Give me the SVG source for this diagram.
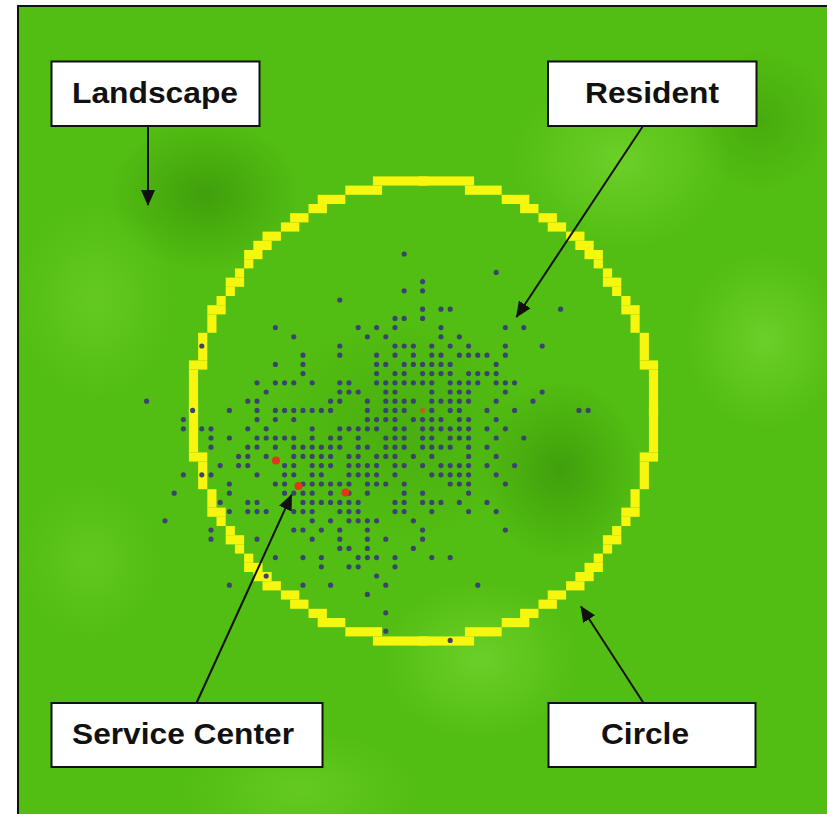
<svg xmlns="http://www.w3.org/2000/svg" xmlns:xlink="http://www.w3.org/1999/xlink" width="827" height="814" viewBox="0 0 827 814">
<style>
.box{fill:#ffffff;stroke:#111;stroke-width:2}
.lbl{font-family:"Liberation Sans",Arial,sans-serif;font-weight:bold;font-size:30px;fill:#111;text-anchor:middle}
.con{stroke:#111;stroke-width:2;fill:none;marker-end:url(#ah)}
.ring{fill:#f6f60e}
.res{fill:none;stroke:#3b4470;stroke-width:0.56;stroke-linecap:round}
.sc{fill:#e0361c}
</style>
<defs>
<marker id="ah" markerUnits="userSpaceOnUse" markerWidth="16" markerHeight="14" refX="15" refY="7" orient="auto">
<path d="M0,0 L16,7 L0,14 z" fill="#111"/>
</marker>
<radialGradient id="dk"><stop offset="0" stop-color="#3a950a" stop-opacity="0.75"/><stop offset="1" stop-color="#3a950a" stop-opacity="0"/></radialGradient>
<radialGradient id="lt"><stop offset="0" stop-color="#72d42e" stop-opacity="0.8"/><stop offset="1" stop-color="#72d42e" stop-opacity="0"/></radialGradient>
<g id="q">
<rect x="24.5" y="-0.5" width="1" height="5"/>
<rect x="23.5" y="4.5" width="2" height="1"/>
<rect x="23.5" y="5.5" width="1" height="3"/>
<rect x="22.5" y="8.5" width="1" height="2"/>
<rect x="21.5" y="10.5" width="2" height="1"/>
<rect x="21.5" y="11.5" width="1" height="1"/>
<rect x="20.5" y="12.5" width="1" height="1"/>
<rect x="19.5" y="13.5" width="2" height="1"/>
<rect x="19.5" y="14.5" width="1" height="1"/>
<rect x="18.5" y="15.5" width="1" height="1"/>
<rect x="17.5" y="16.5" width="2" height="1"/>
<rect x="16.5" y="17.5" width="2" height="1"/>
<rect x="15.5" y="18.5" width="2" height="1"/>
<rect x="13.5" y="19.5" width="2" height="1"/>
<rect x="12.5" y="20.5" width="2" height="1"/>
<rect x="10.5" y="21.5" width="2" height="1"/>
<rect x="8.5" y="22.5" width="3" height="1"/>
<rect x="4.5" y="23.5" width="4" height="1"/>
<rect x="-0.5" y="24.5" width="6" height="1"/>
</g>
</defs>
<rect width="827" height="814" fill="#ffffff"/>
<g id="landscape-area">
<rect x="18" y="6" width="809" height="808" fill="#52bd12"/>
<ellipse cx="205" cy="195" rx="95" ry="75" fill="url(#dk)"/>
<ellipse cx="560" cy="470" rx="80" ry="90" fill="url(#dk)"/>
<ellipse cx="400" cy="430" rx="130" ry="110" fill="url(#dk)" opacity="0.5"/>
<ellipse cx="760" cy="120" rx="70" ry="70" fill="url(#dk)" opacity="0.6"/>
<ellipse cx="620" cy="160" rx="110" ry="90" fill="url(#lt)"/>
<ellipse cx="765" cy="340" rx="80" ry="90" fill="url(#lt)"/>
<ellipse cx="480" cy="660" rx="100" ry="80" fill="url(#lt)"/>
<ellipse cx="95" cy="300" rx="80" ry="100" fill="url(#lt)" opacity="0.7"/>
<ellipse cx="300" cy="790" rx="120" ry="60" fill="url(#lt)" opacity="0.7"/>
<ellipse cx="90" cy="560" rx="70" ry="80" fill="url(#lt)" opacity="0.6"/>
<path d="M18,814 V6 H827" fill="none" stroke="#111" stroke-width="2"/>
</g>
<g id="circle-ring" class="ring" transform="translate(423.5,411) scale(9.2)">
<use xlink:href="#q" href="#q"/>
<use xlink:href="#q" href="#q" transform="scale(-1,1)"/>
<use xlink:href="#q" href="#q" transform="scale(1,-1)"/>
<use xlink:href="#q" href="#q" transform="scale(-1,-1)"/>
</g>
<g id="residents" transform="translate(165,346) scale(9.2)">
<path class="res" d="M26 -10h0M36 -8h0M28 -7h0M26 -6h0M28 -6h0M19 -5h0
M28 -4h0M30 -4h0M31 -4h0M43 -4h0
M25 -3h0M26 -3h0M28 -3h0
M12 -2h0M21 -2h0M23 -2h0M25 -2h0M30 -2h0M37 -2h0M39 -2h0
M14 -1h0M22 -1h0M24 -1h0M30 -1h0M32 -1h0
M4 0h0M19 0h0M25 0h0M26 0h0M27 0h0M29 0h0M31 0h0M33 0h0M37 0h0M41 0h0
M15 1h0M19 1h0M23 1h0M25 1h0M27 1h0M29 1h0M30 1h0M32 1h0M33 1h0M34 1h0M35 1h0M37 1h0
M12 2h0M15 2h0M23 2h0M24 2h0M26 2h0M27 2h0M28 2h0M29 2h0M30 2h0M31 2h0M36 2h0
M15 3h0M23 3h0M25 3h0M26 3h0M28 3h0M29 3h0M30 3h0M31 3h0M33 3h0M34 3h0M35 3h0M36 3h0
M10 4h0M12 4h0M13 4h0M14 4h0M16 4h0M19 4h0M20 4h0M23 4h0M24 4h0M25 4h0M26 4h0M27 4h0M28 4h0M29 4h0M31 4h0M32 4h0M33 4h0M34 4h0M36 4h0M37 4h0M38 4h0
M11 5h0M19 5h0M20 5h0M21 5h0M24 5h0M25 5h0M29 5h0M31 5h0M32 5h0M33 5h0M37 5h0M41 5h0
M-2 6h0M9 6h0M10 6h0M18 6h0M19 6h0M22 6h0M24 6h0M25 6h0M26 6h0M27 6h0M29 6h0M30 6h0M31 6h0M32 6h0M33 6h0M36 6h0M40 6h0
M3 7h0M7 7h0M10 7h0M12 7h0M13 7h0M14 7h0M15 7h0M16 7h0M17 7h0M18 7h0M22 7h0M24 7h0M25 7h0M26 7h0M29 7h0M31 7h0M32 7h0M35 7h0M38 7h0M45 7h0M46 7h0
M2 8h0M10 8h0M12 8h0M14 8h0M22 8h0M23 8h0M24 8h0M25 8h0M27 8h0M28 8h0M29 8h0M30 8h0M32 8h0M33 8h0M36 8h0
M2 9h0M4 9h0M5 9h0M9 9h0M11 9h0M16 9h0M19 9h0M20 9h0M21 9h0M22 9h0M23 9h0M25 9h0M26 9h0M28 9h0M29 9h0M30 9h0M31 9h0M32 9h0M33 9h0M35 9h0M37 9h0
M5 10h0M7 10h0M10 10h0M11 10h0M12 10h0M13 10h0M14 10h0M16 10h0M18 10h0M19 10h0M21 10h0M24 10h0M25 10h0M26 10h0M28 10h0M29 10h0M31 10h0M32 10h0M33 10h0M36 10h0M39 10h0
M5 11h0M9 11h0M10 11h0M12 11h0M14 11h0M15 11h0M16 11h0M17 11h0M18 11h0M19 11h0M21 11h0M22 11h0M24 11h0M25 11h0M26 11h0M28 11h0M29 11h0M30 11h0M31 11h0M33 11h0M35 11h0
M8 12h0M9 12h0M11 12h0M14 12h0M15 12h0M16 12h0M17 12h0M18 12h0M20 12h0M21 12h0M23 12h0M24 12h0M25 12h0M27 12h0M29 12h0M33 12h0M36 12h0
M6 13h0M8 13h0M9 13h0M13 13h0M14 13h0M16 13h0M17 13h0M18 13h0M20 13h0M21 13h0M22 13h0M23 13h0M25 13h0M26 13h0M28 13h0M30 13h0M31 13h0M32 13h0M33 13h0M35 13h0M38 13h0
M2 14h0M4 14h0M5 14h0M10 14h0M13 14h0M14 14h0M16 14h0M17 14h0M20 14h0M21 14h0M22 14h0M23 14h0M25 14h0M29 14h0M30 14h0M31 14h0M32 14h0M33 14h0M36 14h0
M7 15h0M12 15h0M13 15h0M15 15h0M16 15h0M17 15h0M18 15h0M19 15h0M20 15h0M22 15h0M23 15h0M24 15h0M26 15h0M31 15h0M32 15h0M33 15h0M37 15h0
M1 16h0M7 16h0M13 16h0M14 16h0M15 16h0M16 16h0M18 16h0M20 16h0M22 16h0M26 16h0M28 16h0M33 16h0
M6 17h0M9 17h0M10 17h0M15 17h0M16 17h0M17 17h0M18 17h0M19 17h0M20 17h0M21 17h0M25 17h0M26 17h0M28 17h0M29 17h0M30 17h0M32 17h0M35 17h0
M7 18h0M9 18h0M10 18h0M11 18h0M14 18h0M15 18h0M16 18h0M19 18h0M20 18h0M21 18h0M25 18h0M26 18h0M29 18h0M33 18h0M36 18h0
M0 19h0M16 19h0M18 19h0M20 19h0M21 19h0M22 19h0M23 19h0M27 19h0
M5 20h0M14 20h0M15 20h0M17 20h0M19 20h0M22 20h0M28 20h0M37 20h0
M5 21h0M10 21h0M16 21h0M19 21h0M22 21h0M24 21h0M28 21h0
M19 22h0M20 22h0M22 22h0M27 22h0
M12 23h0M15 23h0M17 23h0M21 23h0M22 23h0M23 23h0M25 23h0M29 23h0M31 23h0
M17 24h0M20 24h0M21 24h0M25 24h0
M11 25h0M23 25h0
M7 26h0M15 26h0M18 26h0M24 26h0M34 26h0
M22 27h0M24 29h0M24 31h0M31 32h0"/>
<path d="M28 7h0" fill="none" stroke="#b8651c" stroke-width="0.56" stroke-linecap="round"/>
</g>
<g id="service-centers" class="sc">
<circle cx="276" cy="460.5" r="4"/>
<circle cx="298.5" cy="486" r="4"/>
<circle cx="345.5" cy="492.5" r="4"/>
</g>
<g id="connectors">
<path class="con" d="M148,126 L148,205"/>
<path class="con" d="M643,126 L516.5,317"/>
<path class="con" d="M196.5,703 L291.5,495"/>
<path class="con" d="M643.5,703 L581,606.5"/>
</g>
<g id="landscape">
<rect class="box" x="51.5" y="61.5" width="208" height="64.5"/>
<text class="lbl" x="155" y="103" textLength="166" lengthAdjust="spacingAndGlyphs">Landscape</text>
</g>
<g id="resident">
<rect class="box" x="548" y="61.5" width="208.5" height="64.5"/>
<text class="lbl" x="652" y="103" textLength="134" lengthAdjust="spacingAndGlyphs">Resident</text>
</g>
<g id="service-center">
<rect class="box" x="51.5" y="703" width="271" height="64"/>
<text class="lbl" x="183" y="744" textLength="222" lengthAdjust="spacingAndGlyphs">Service Center</text>
</g>
<g id="circle">
<rect class="box" x="548.5" y="703" width="207" height="64"/>
<text class="lbl" x="645" y="744" textLength="88" lengthAdjust="spacingAndGlyphs">Circle</text>
</g>
</svg>
